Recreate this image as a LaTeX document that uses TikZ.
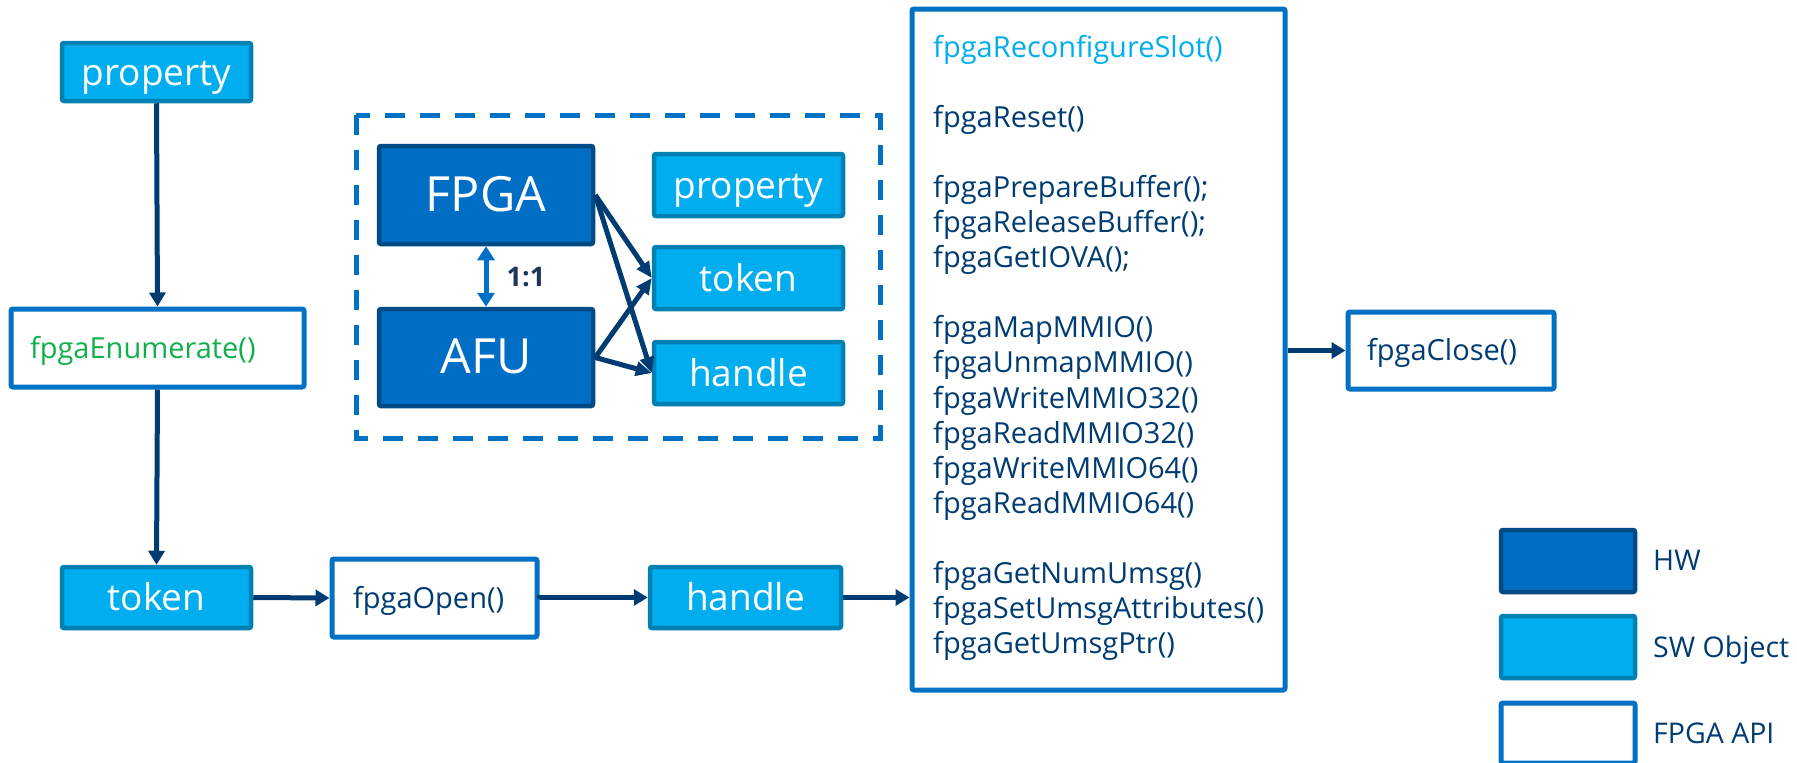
\documentclass[tikz,border=0pt]{standalone}
\usepackage{fontspec}
\setmainfont{Open Sans}
\usetikzlibrary{arrows.meta}

\definecolor{navy}{HTML}{003C71}
\definecolor{hwfill}{HTML}{006EC4}
\definecolor{hwborder}{HTML}{004A86}
\definecolor{swfill}{HTML}{00AEEF}
\definecolor{swborder}{HTML}{0080B3}
\definecolor{apiblue}{HTML}{0071C5}
\definecolor{apigreen}{HTML}{12B04C}
\definecolor{labeldark}{HTML}{1F3558}

\tikzset{
  swbox/.style={draw=swborder, fill=swfill, line width=4.5pt, text=white,
    rounded corners=2pt, inner sep=0pt,
    font=\fontsize{37}{42}\selectfont, text height=28pt, text depth=2pt},
  hwbox/.style={draw=hwborder, fill=hwfill, line width=4.5pt, text=white,
    rounded corners=2pt, inner sep=0pt,
    font=\fontsize{48.5}{54}\selectfont, text height=34pt, text depth=2pt},
  apibox/.style={draw=apiblue, fill=white, line width=5pt, text=navy,
    rounded corners=2pt, align=left, inner ysep=0pt,
    font=\fontsize{29}{35}\selectfont, text height=22pt, text depth=2pt},
  apiframe/.style={draw=apiblue, fill=white, line width=5pt, rounded corners=2pt},
  apiline/.style={anchor=base west, text=navy, inner sep=0pt,
    font=\fontsize{29}{35}\selectfont},
  legendtext/.style={anchor=base west, text=navy, inner sep=0pt,
    font=\fontsize{28.5}{34}\selectfont},
  flow/.style={draw=navy, line width=5pt, -{Triangle[length=14pt,width=16pt]}},
  link/.style={draw=navy, line width=5pt, -{Triangle[length=16pt,width=14pt]}},
  pair/.style={draw=apiblue, line width=5pt,
    {Triangle[length=14pt,width=17pt]}-{Triangle[length=14pt,width=17pt]}},
  groupframe/.style={draw=apiblue, line width=5pt, dash pattern=on 20pt off 15pt}
}

\begin{document}
\begin{tikzpicture}[x=1pt,y=-1pt]
\useasboundingbox (0,0) rectangle (1797,763);

% --- enumeration / open flow on the left ---
\node[swbox, minimum width=189pt, minimum height=58pt] (propL) at (156.5,72) {property};
\node[apibox, text=apigreen, minimum height=78pt, inner xsep=19pt, text width=255pt] (enum) at (157.5,348) {fpgaEnumerate()};
\node[swbox, minimum width=189pt, minimum height=61pt] (tokL) at (156.5,597.5) {token};
\node[apibox, minimum height=78pt, inner xsep=21pt, text width=163pt] (open) at (434.5,598) {fpgaOpen()};
\node[swbox, minimum width=191pt, minimum height=61pt] (handL) at (745.5,597.5) {handle};

% --- object model group ---
\draw[groupframe] (356,115) rectangle (880,438);
\node[hwbox, minimum width=214pt, minimum height=98pt] (fpga) at (486,195) {FPGA};
\node[hwbox, minimum width=214pt, minimum height=97pt] (afu) at (486,357.5) {AFU};
\node[swbox, minimum width=189pt, minimum height=62pt] (propI) at (748.5,185) {property};
\node[swbox, minimum width=189pt, minimum height=62pt] (tokI) at (748.5,278) {token};
\node[swbox, minimum width=189pt, minimum height=62pt] (handI) at (748.5,373) {handle};
\node[text=labeldark, font=\fontsize{27}{30}\selectfont\bfseries, inner sep=0pt] (ratio) at (526,277) {1:1};

% --- API list ---
\node[apiframe, minimum width=373pt, minimum height=681pt] (apiset) at (1098.5,349.5) {};
\node[apiline, text=swfill] (l0) at (933,57) {fpgaReconfigureSlot()};
\node[apiline] (l2) at (933,127.2) {fpgaReset()};
\node[apiline] (l4) at (933,197.4) {fpgaPrepareBuffer();};
\node[apiline] (l5) at (933,232.5) {fpgaReleaseBuffer();};
\node[apiline] (l6) at (933,267.6) {fpgaGetIOVA();};
\node[apiline] (l8) at (933,337.8) {fpgaMapMMIO()};
\node[apiline] (l9) at (933,372.9) {fpgaUnmapMMIO()};
\node[apiline] (l10) at (933,408) {fpgaWriteMMIO32()};
\node[apiline] (l11) at (933,443.1) {fpgaReadMMIO32()};
\node[apiline] (l12) at (933,478.2) {fpgaWriteMMIO64()};
\node[apiline] (l13) at (933,513.3) {fpgaReadMMIO64()};
\node[apiline] (l15) at (933,583.5) {fpgaGetNumUmsg()};
\node[apiline] (l16) at (933,618.6) {fpgaSetUmsgAttributes()};
\node[apiline] (l17) at (933,653.7) {fpgaGetUmsgPtr()};

\node[apibox, minimum height=77pt, inner xsep=19pt, text width=168pt] (close) at (1451,350.5) {fpgaClose()};

% --- legend ---
\node[hwbox, minimum width=134pt, minimum height=62pt] (lgHW) at (1568,561) {};
\node[swbox, minimum width=134pt, minimum height=62pt] (lgSW) at (1568,647) {};
\node[apiframe, minimum width=134pt, minimum height=60pt] (lgAPI) at (1568,733) {};
\node[legendtext] (tHW) at (1653,570) {HW};
\node[legendtext] (tSW) at (1653,657) {SW Object};
\node[legendtext] (tAPI) at (1653,743) {FPGA API};

% --- connectors ---
\draw[flow] (propL.south) -- (enum.north);
\draw[flow] (enum.south) -- (tokL.north);
\draw[flow] (tokL.east) -- (open.west);
\draw[flow] (open.east) -- (handL.east -| open.east) -- (handL.west);
\draw[flow] (handL.east) -- (handL.east -| apiset.west);
\draw[flow] (apiset.east |- close.west) -- (close.west);

\draw[pair] (fpga.south) -- (afu.north);
\draw[link] (fpga.east) -- (tokI.west);
\draw[link] (fpga.east) -- (handI.west);
\draw[link] (afu.east) -- (tokI.west);
\draw[link] (afu.east) -- (handI.west);
\end{tikzpicture}
\end{document}
